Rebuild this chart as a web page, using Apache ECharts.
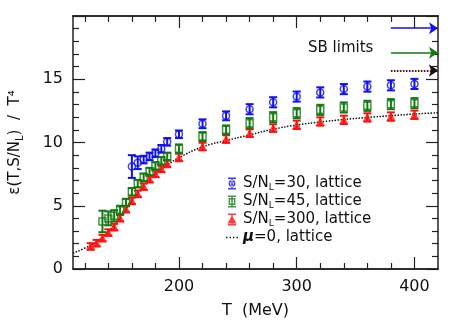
<!DOCTYPE html>
<html>
<head>
<meta charset="utf-8">
<script src="https://cdn.jsdelivr.net/npm/echarts@6/dist/echarts.min.js"></script>
<style>
  html, body { margin: 0; padding: 0; background: #fff; }
  #chart { width: 463px; height: 335px; }
</style>
</head>
<body>
<div id="chart"></div>
<script>
// T in MeV, energy density e/T^4 and errors
var tBlue = [160, 165, 170, 175, 180, 185, 190, 200, 220, 240, 260, 280, 300, 320, 340, 360, 380, 400]
var eBlue = [8.1, 8.4, 8.65, 8.9, 9.15, 9.5, 10.05, 10.65, 11.48, 12.11, 12.63, 13.18, 13.63, 13.96, 14.22, 14.42, 14.52, 14.63]
var errBlue = [0.9, 0.5, 0.3, 0.3, 0.3, 0.3, 0.3, 0.3, 0.35, 0.35, 0.4, 0.4, 0.4, 0.4, 0.4, 0.4, 0.4, 0.4]

var tGreen = [135, 140, 145, 150, 155, 160, 165, 170, 175, 180, 185, 190, 200, 220, 240, 260, 280, 300, 320, 340, 360, 380, 400]
var eGreen = [3.76, 4.0, 4.2, 4.65, 5.25, 6.1, 6.75, 7.25, 7.7, 8.15, 8.55, 8.9, 9.5, 10.47, 11.0, 11.53, 12.0, 12.32, 12.58, 12.77, 12.9, 13.03, 13.11]
var errGreen = [0.85, 0.55, 0.45, 0.35, 0.3, 0.3, 0.3, 0.3, 0.3, 0.3, 0.3, 0.3, 0.35, 0.35, 0.35, 0.4, 0.4, 0.4, 0.4, 0.4, 0.4, 0.4, 0.4]

var tRed = [125, 130, 135, 140, 145, 150, 155, 160, 165, 170, 175, 180, 185, 190, 200, 220, 240, 260, 280, 300, 320, 340, 360, 380, 400]
var eRed = [1.79, 2.05, 2.45, 2.89, 3.32, 4.03, 4.74, 5.39, 5.95, 6.52, 7.11, 7.53, 7.92, 8.32, 8.82, 9.68, 10.27, 10.74, 11.14, 11.4, 11.66, 11.79, 11.98, 12.05, 12.19]
var errRed = [0.25, 0.25, 0.25, 0.25, 0.25, 0.25, 0.25, 0.25, 0.25, 0.25, 0.25, 0.25, 0.25, 0.25, 0.3, 0.3, 0.3, 0.3, 0.3, 0.33, 0.33, 0.33, 0.33, 0.33, 0.33]

// mu=0 lattice curve
var tMu0 = [110, 120, 130, 140, 150, 160, 170, 180, 190, 200, 220, 240, 260, 280, 300, 320, 340, 360, 380, 400, 420]
var eMu0 = [1.25, 1.65, 2.15, 2.95, 4.1, 5.4, 6.5, 7.5, 8.2, 8.8, 9.65, 10.15, 10.6, 11.05, 11.38, 11.62, 11.82, 11.98, 12.12, 12.25, 12.35]

// Stefan-Boltzmann limits for S/N_L = 30, 45, 300
var sbLimits = [19.04, 17.1, 15.7]
var sbFrom = 380
var sbTo = 420

var xMajor = [200, 300, 400]
var xMinor = [120, 140, 160, 180, 220, 240, 260, 280, 320, 340, 360, 380]

var BLUE = '#1010f0'
var GREEN = '#117a11'
var RED = '#ff1010'
var FONT = 'DejaVu Sans'

// legend icons: error bar + marker, in a 12x12 box (the first zero-area line pins the box)
var BOX = 'M0,0L12,12Z '
var IBEAM = 'M2,0h8v1.5h-8z M2,10.5h8v1.5h-8z M5.25,0h1.5v12h-1.5z '
var ICON_BLUE = 'path://' + BOX + IBEAM +
  'M2.6,6a3.4,3.4 0 1,0 6.8,0a3.4,3.4 0 1,0 -6.8,0z M4.1,6a1.9,1.9 0 1,1 3.8,0a1.9,1.9 0 1,1 -3.8,0z'
var ICON_GREEN = 'path://' + BOX + IBEAM + 'M2.6,2.6h6.8v6.8h-6.8z M4,4v4h4v-4z'
var ICON_RED = 'path://' + BOX + IBEAM + 'M6,1.8L10.6,10L1.4,10z'
var ICON_DOTS = 'path://' + BOX +
  'M0,5.3h1.4v1.4h-1.4z M3.5,5.3h1.4v1.4h-1.4z M7,5.3h1.4v1.4h-1.4z M10.5,5.3h1.4v1.4h-1.4z'

function zip(t, v, e) {
  var out = []
  for (var i = 0; i < t.length; i++) {
    out.push(e ? [t[i], v[i], e[i]] : [t[i], v[i]])
  }
  return out
}

function errorBars(name, color, t, v, e) {
  return {
    name: name,
    type: 'custom',
    xAxisIndex: 0,
    yAxisIndex: 0,
    data: zip(t, v, e),
    encode: { x: 0, y: 1 },
    renderItem: function (params, api) {
      var x = api.value(0), y = api.value(1), d = api.value(2)
      var lo = api.coord([x, y - d])
      var hi = api.coord([x, y + d])
      var w = 4
      var style = { stroke: color, lineWidth: 2 }
      return {
        type: 'group',
        children: [
          { type: 'line', shape: { x1: lo[0], y1: lo[1], x2: hi[0], y2: hi[1] }, style: style },
          { type: 'line', shape: { x1: lo[0] - w, y1: lo[1], x2: lo[0] + w, y2: lo[1] }, style: style },
          { type: 'line', shape: { x1: hi[0] - w, y1: hi[1], x2: hi[0] + w, y2: hi[1] }, style: style }
        ]
      }
    },
    z: 2
  }
}

function sbArrow(y, color, dotted) {
  return [
    { coord: [sbFrom, y], symbol: 'none', lineStyle: { color: color, width: 1.5, type: dotted ? 'dotted' : 'solid' } },
    { coord: [sbTo, y], symbol: 'arrow' }
  ]
}

var chart = echarts.init(document.getElementById('chart'))

var legendText = {
  s30: '{t|S/N}{s|L}{t|=30, lattice}',
  s45: '{t|S/N}{s|L}{t|=45, lattice}',
  s300: '{t|S/N}{s|L}{t|=300, lattice}',
  mu0: '{m|\u03bc}{t|=0, lattice}'
}

var axisLine = { show: true, lineStyle: { color: '#222', width: 1.5 } }

function xAxis(pos, ticks, len, labels) {
  return {
    type: 'value',
    position: pos,
    min: 110,
    max: 420,
    axisLine: axisLine,
    splitLine: { show: false },
    axisTick: { show: true, inside: true, length: len, customValues: ticks, lineStyle: { color: '#222', width: 1.2 } },
    axisLabel: labels
      ? { show: true, customValues: ticks, margin: 10, fontSize: 16, color: '#111', fontFamily: FONT }
      : { show: false }
  }
}

function yAxis(pos, labels) {
  return {
    type: 'value',
    position: pos,
    min: 0,
    max: 20,
    interval: 5,
    axisLine: axisLine,
    splitLine: { show: false },
    axisTick: { show: true, inside: true, length: 12, lineStyle: { color: '#222', width: 1.2 } },
    minorTick: { show: true, splitNumber: 5, length: 6, lineStyle: { color: '#222', width: 1.2 } },
    axisLabel: labels
      ? { show: true, margin: 10, fontSize: 16, color: '#111', fontFamily: FONT,
          formatter: function (v) { return v === 20 ? '' : String(v) } }
      : { show: false }
  }
}

var xAxes = [
  xAxis('bottom', xMajor, 12, true),
  xAxis('bottom', xMinor, 6, false),
  xAxis('top', xMajor, 12, false),
  xAxis('top', xMinor, 6, false)
]
xAxes[0].name = 'T  (MeV)'
xAxes[0].nameLocation = 'middle'
xAxes[0].nameGap = 34
xAxes[0].nameTextStyle = { fontSize: 16, color: '#111', fontFamily: FONT }

var yAxes = [yAxis('left', true), yAxis('right', false)]
yAxes[0].name = '{t|\u03b5(T,S/N}{s|L}{t|)  /  T\u2074}'
yAxes[0].nameLocation = 'middle'
yAxes[0].nameGap = 48
yAxes[0].nameTextStyle = {
  fontFamily: FONT,
  color: '#111',
  rich: {
    t: { fontSize: 15, fontFamily: FONT, color: '#111' },
    s: { fontSize: 10, fontFamily: FONT, color: '#111', padding: [9, 0, 0, 0] }
  }
}

var option = {
  animation: false,
  backgroundColor: '#fff',
  grid: { left: 72, right: 25, top: 16, bottom: 66 },
  xAxis: xAxes,
  yAxis: yAxes,
  legend: {
    orient: 'vertical',
    left: 221,
    top: 171,
    itemGap: 2,
    itemWidth: 12,
    itemHeight: 12,
    data: [
      { name: 's30', icon: ICON_BLUE, itemStyle: { color: BLUE, borderWidth: 0 } },
      { name: 's45', icon: ICON_GREEN, itemStyle: { color: GREEN, borderWidth: 0 } },
      { name: 's300', icon: ICON_RED, itemStyle: { color: RED, borderWidth: 0 } },
      { name: 'mu0', icon: ICON_DOTS, itemStyle: { color: '#111', borderWidth: 0 }, lineStyle: { width: 0, opacity: 0 } }
    ],
    formatter: function (name) { return legendText[name] },
    textStyle: {
      rich: {
        t: { fontSize: 15, lineHeight: 17, fontFamily: FONT, color: '#111' },
        s: { fontSize: 9, fontFamily: FONT, color: '#111', padding: [8, 0, 0, 0] },
        m: { fontSize: 15, lineHeight: 17, fontFamily: FONT, color: '#111', fontWeight: 'bold', fontStyle: 'italic' }
      }
    }
  },
  graphic: [
    { type: 'text', left: 308, top: 41, style: { text: 'SB limits', fontSize: 15, fontFamily: FONT, fill: '#111' } }
  ],
  series: [
    {
      name: 'mu0',
      type: 'line',
      data: zip(tMu0, eMu0),
      smooth: true,
      showSymbol: false,
      symbol: 'none',
      lineStyle: { color: '#111', width: 1.5, type: 'dotted' },
      itemStyle: { color: '#111' },
      z: 1
    },
    {
      name: 's300',
      type: 'scatter',
      data: zip(tRed, eRed),
      symbol: 'triangle',
      symbolSize: 9,
      itemStyle: { color: RED },
      z: 3,
      markLine: {
        silent: true,
        animation: false,
        symbolSize: 9,
        label: { show: false },
        data: [sbArrow(sbLimits[2], RED, true), sbArrow(sbLimits[2], '#111', true)]
      }
    },
    errorBars('s300', RED, tRed, eRed, errRed),
    {
      name: 's45',
      type: 'scatter',
      data: zip(tGreen, eGreen),
      symbol: 'rect',
      symbolSize: 7,
      itemStyle: { color: 'transparent', borderColor: GREEN, borderWidth: 1.5 },
      z: 3,
      markLine: {
        silent: true,
        animation: false,
        symbolSize: 9,
        label: { show: false },
        data: [sbArrow(sbLimits[1], GREEN, false)]
      }
    },
    errorBars('s45', GREEN, tGreen, eGreen, errGreen),
    {
      name: 's30',
      type: 'scatter',
      data: zip(tBlue, eBlue),
      symbol: 'circle',
      symbolSize: 7,
      itemStyle: { color: 'transparent', borderColor: BLUE, borderWidth: 1.5 },
      z: 3,
      markLine: {
        silent: true,
        animation: false,
        symbolSize: 9,
        label: { show: false },
        data: [sbArrow(sbLimits[0], BLUE, false)]
      }
    },
    errorBars('s30', BLUE, tBlue, eBlue, errBlue)
  ]
}

chart.setOption(option)
</script>
</body>
</html>
